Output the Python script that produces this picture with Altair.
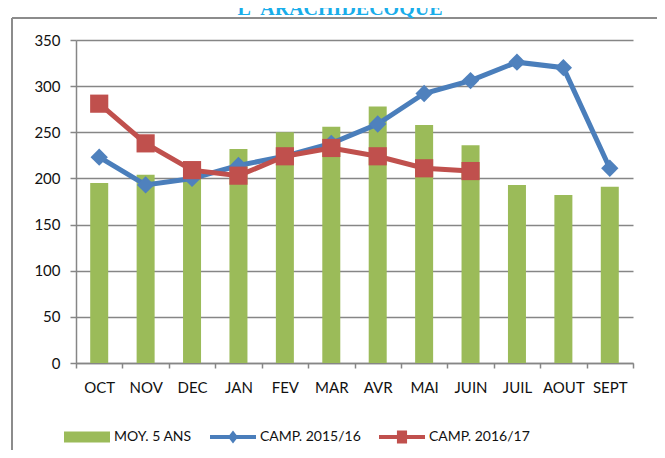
import altair as alt
import pandas as pd

months = ["OCT", "NOV", "DEC", "JAN", "FEV", "MAR", "AVR", "MAI", "JUIN", "JUIL", "AOUT", "SEPT"]
moy_5_ans = [195, 204, 200, 232, 250, 256, 278, 258, 236, 193, 182, 191]
camp_1516 = [223, 193, 200, 214, 224, 238, 259, 292, 306, 326, 320, 211]
camp_1617 = [281, 238, 209, 203, 224, 233, 224, 211, 208]
series_names = ["MOY. 5 ANS", "CAMP. 2015/16", "CAMP. 2016/17"]
series_colors = ["#9BBB59", "#4A7EBB", "#C0504D"]
y_ticks = [0, 50, 100, 150, 200, 250, 300, 350]
title_text = "L' ARACHIDECOQUE"

bars_df = pd.DataFrame({"mois": months, "valeur": moy_5_ans})
l1_df = pd.DataFrame({"mois": months, "valeur": camp_1516})
l2_df = pd.DataFrame({"mois": months[:len(camp_1617)], "valeur": camp_1617})
leg_df = pd.DataFrame({"serie": series_names})
one_df = pd.DataFrame({"t": [title_text]})

FONT = "Lato"
GRID = "#868686"

x_enc = alt.X("mois:N", sort=months, title=None,
              scale=alt.Scale(paddingInner=0, paddingOuter=0),
              axis=alt.Axis(labelAngle=0, tickBand="extent", grid=False,
                            domainColor=GRID, domainWidth=1.5, tickColor=GRID,
                            tickWidth=1.5, tickSize=5, labelPadding=12,
                            labelFont=FONT, labelFontSize=15, labelColor="#111111"))
y_enc = alt.Y("valeur:Q", title=None,
              scale=alt.Scale(domain=[0, 350], nice=False),
              axis=alt.Axis(values=y_ticks, grid=True, gridColor=GRID, gridWidth=1.5,
                            domainColor=GRID, domainWidth=1.5, tickColor=GRID,
                            tickWidth=1.5, tickSize=6, labelPadding=10,
                            labelFont=FONT, labelFontSize=15, labelColor="#111111"))

bars = alt.Chart(bars_df).mark_bar(size=18, color=series_colors[0]).encode(x=x_enc, y=y_enc)

line1 = alt.Chart(l1_df).mark_line(color=series_colors[1], strokeWidth=5).encode(
    x=alt.X("mois:N", sort=months), y="valeur:Q")
pts1 = alt.Chart(l1_df).mark_point(shape="diamond", filled=True, size=300, opacity=1,
                                   color="#4F81BD").encode(
    x=alt.X("mois:N", sort=months), y="valeur:Q")
line2 = alt.Chart(l2_df).mark_line(color=series_colors[2], strokeWidth=5).encode(
    x=alt.X("mois:N", sort=months), y="valeur:Q")
pts2 = alt.Chart(l2_df).mark_point(shape="square", filled=True, size=330, opacity=1,
                                   color="#C0504D").encode(
    x=alt.X("mois:N", sort=months), y="valeur:Q")

leg_shapes = [
    "M-1,-0.24H1V0.24H-1Z",
    "M-1,-0.09H1V0.09H-1Z M0,-0.28L0.22,0L0,0.28L-0.22,0Z",
    "M-1,-0.09H1V0.09H-1Z M-0.22,-0.28H0.22V0.28H-0.22Z",
]
leg_props = dict(title=None, orient="none", direction="horizontal",
                 legendX=-12, legendY=374, symbolSize=2116,
                 symbolStrokeWidth=0, labelFont=FONT, labelFontSize=14,
                 labelColor="#111111", columnPadding=18, labelOffset=4,
                 symbolOpacity=1)
legend_layer = alt.Chart(leg_df).mark_point(filled=True, opacity=1).encode(
    color=alt.Color("serie:N", sort=series_names,
                    scale=alt.Scale(domain=series_names, range=series_colors),
                    legend=alt.Legend(**leg_props)),
    shape=alt.Shape("serie:N", sort=series_names,
                    scale=alt.Scale(domain=series_names, range=leg_shapes),
                    legend=alt.Legend(**leg_props)),
).transform_filter("false")

border_left = alt.Chart(one_df).mark_rule(color="#8C8C8C", strokeWidth=2).encode(
    x=alt.value(-64), y=alt.value(-22), y2=alt.value(420))
border_top = alt.Chart(one_df).mark_rule(color="#8C8C8C", strokeWidth=2).encode(
    x=alt.value(-64), x2=alt.value(600), y=alt.value(-22))

title = alt.Chart(one_df).mark_text(font="Liberation Serif", fontSize=20, fontWeight="bold",
                                    color="#19ADEA", align="center",
                                    baseline="alphabetic").encode(
    x=alt.value(264), y=alt.value(-25), text="t:N")

chart = alt.layer(bars, line1, pts1, line2, pts2, legend_layer, border_left, border_top,
                  title).properties(
    width=557, height=323,
    autosize=alt.AutoSizeParams(type="none"),
    padding={"left": 68, "top": 32, "right": 24, "bottom": 87},
).configure_view(stroke=None)

chart.save("out.html", embed_options={"renderer": "svg", "actions": False})
